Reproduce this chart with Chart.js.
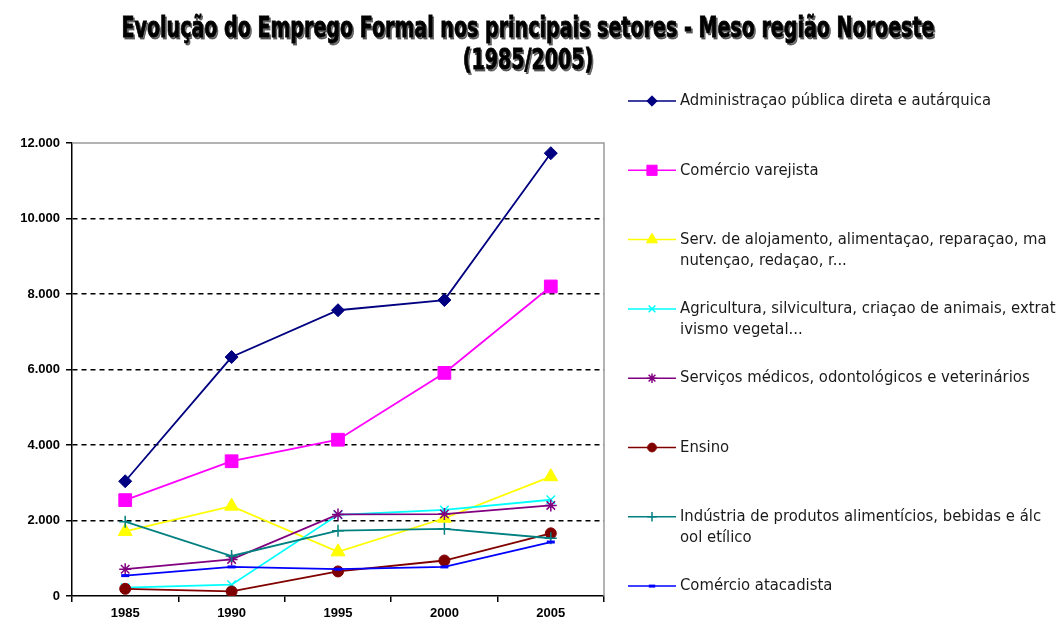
<!DOCTYPE html>
<html>
<head>
<meta charset="utf-8">
<script src="https://cdn.jsdelivr.net/npm/chart.js@4/dist/chart.umd.min.js"></script>
<style>
  html, body { margin: 0; padding: 0; background: #fff; }
  canvas { display: block; }
</style>
</head>
<body>
<canvas id="chart" width="1063" height="625"></canvas>
<script>
// data
const years = ['1985', '1990', '1995', '2000', '2005'];
const admPublica = [3040, 6330, 7570, 7840, 11730];
const comVarejista = [2540, 3570, 4140, 5910, 8200];
const servAlojamento = [1710, 2380, 1170, 2060, 3160];
const agricultura = [220, 300, 2150, 2280, 2550];
const servMedicos = [710, 970, 2160, 2170, 2400];
const ensino = [190, 120, 650, 940, 1660];
const industriaAlim = [1970, 1060, 1730, 1780, 1530];
const comAtacadista = [540, 770, 710, 770, 1430];
const yTicks = [0, 2000, 4000, 6000, 8000, 10000, 12000];

const titleLines = ['Evolução do Emprego Formal nos principais setores - Meso região Noroeste', '(1985/2005)'];
const legendLines = [
  ['Administraçao pública direta e autárquica'],
  ['Comércio varejista'],
  ['Serv. de alojamento, alimentaçao, reparaçao, ma', 'nutençao, redaçao, r...'],
  ['Agricultura, silvicultura, criaçao de animais, extrat', 'ivismo vegetal...'],
  ['Serviços médicos, odontológicos e veterinários'],
  ['Ensino'],
  ['Indústria de produtos alimentícios, bebidas e álc', 'ool etílico'],
  ['Comércio atacadista']
];

function serie(label, data, color, style, radius, filled) {
  return {
    label: label, data: data,
    borderColor: color, backgroundColor: color,
    borderWidth: 1.8,
    pointStyle: style, pointRadius: radius,
    pointBackgroundColor: filled ? color : 'transparent',
    pointBorderColor: color, pointBorderWidth: filled ? 1 : 1.5,
    tension: 0
  };
}

const datasets = [
  serie(legendLines[0].join(''), admPublica, '#000080', 'rectRot', 6.5, true),
  serie(legendLines[1].join(''), comVarejista, '#FF00FF', 'rect', 9, true),
  serie(legendLines[2].join(''), servAlojamento, '#FFFF00', 'triangle', 8, true),
  serie(legendLines[3].join(''), agricultura, '#00FFFF', 'crossRot', 6, false),
  serie(legendLines[4].join(''), servMedicos, '#800080', 'star', 6, false),
  serie(legendLines[5].join(''), ensino, '#800000', 'circle', 5.5, true),
  serie(legendLines[6].join(''), industriaAlim, '#008080', 'cross', 6, false),
  serie(legendLines[7].join(''), comAtacadista, '#0000FF', 'line', 4, false)
];
datasets.forEach((d, i) => { d.order = -i; });
datasets[7].pointBorderWidth = 3;

const frameAndText = {
  id: 'frameAndText',
  afterDraw(chart) {
    const ctx = chart.ctx;
    const a = chart.chartArea;
    ctx.save();
    // plot frame, top and right
    ctx.strokeStyle = '#9a9a9a';
    ctx.lineWidth = 1.5;
    ctx.beginPath();
    ctx.moveTo(a.left, a.top);
    ctx.lineTo(a.right, a.top);
    ctx.lineTo(a.right, a.bottom);
    ctx.stroke();

    // title, squeezed to the width of the original
    ctx.font = "bold 28px 'Liberation Sans Narrow', 'DejaVu Sans Condensed', sans-serif";
    ctx.textAlign = 'center';
    ctx.textBaseline = 'middle';
    ctx.fillStyle = '#000';
    ctx.strokeStyle = '#000';
    ctx.lineWidth = 0.8;
    ctx.shadowColor = 'rgba(0,0,0,0.55)';
    ctx.shadowOffsetX = 1.5;
    ctx.shadowOffsetY = 1.5;
    const sx = 813 / ctx.measureText(titleLines[0]).width;
    titleLines.forEach((t, i) => {
      ctx.save();
      ctx.translate(528, 30 + i * 32);
      ctx.scale(sx, 1);
      ctx.fillText(t, 0, 0);
      ctx.strokeText(t, 0, 0);
      ctx.restore();
    });
    ctx.shadowColor = 'transparent';

    // legend
    ctx.font = "16.5px 'DejaVu Sans Condensed', 'DejaVu Sans', sans-serif";
    ctx.textAlign = 'left';
    chart.data.datasets.forEach((d, i) => {
      const y = 101 + i * 69.3;
      ctx.strokeStyle = d.borderColor;
      ctx.lineWidth = 1.5;
      ctx.beginPath();
      ctx.moveTo(628, y);
      ctx.lineTo(676, y);
      ctx.stroke();
      ctx.fillStyle = d.pointBackgroundColor;
      ctx.lineWidth = d.pointBorderWidth;
      Chart.helpers.drawPoint(ctx, {
        pointStyle: d.pointStyle, rotation: 0,
        radius: d.pointRadius * 0.8, borderWidth: d.pointBorderWidth
      }, 652, y);
      ctx.fillStyle = '#1a1a1a';
      legendLines[i].forEach((line, j) => ctx.fillText(line, 680, y + j * 21));
    });
    ctx.restore();
  }
};

const tickFont = { family: "'Liberation Sans', Arial, sans-serif", size: 13, weight: 'bold' };

new Chart(document.getElementById('chart'), {
  type: 'line',
  data: { labels: years, datasets: datasets },
  options: {
    responsive: false,
    animation: false,
    layout: { padding: { left: 0, top: 143, right: 459, bottom: 0 } },
    plugins: { legend: { display: false }, tooltip: { enabled: false }, title: { display: false } },
    scales: {
      x: {
        type: 'category',
        offset: true,
        grid: { offset: true, drawOnChartArea: false, color: '#000', lineWidth: 1.5, tickLength: 6 },
        border: { color: '#000', width: 1.5 },
        ticks: { color: '#000', font: tickFont, padding: 4, maxRotation: 0 },
        afterFit(s) { s.height = 29; }
      },
      y: {
        min: 0, max: 12000,
        afterBuildTicks(s) { s.ticks = yTicks.map(v => ({ value: v })); },
        grid: {
          color: c => (c.tick && (c.tick.value === 0 || c.tick.value === 12000)) ? 'rgba(0,0,0,0)' : '#000',
          lineWidth: 1.5, tickColor: '#000', tickLength: 6
        },
        border: { color: '#000', width: 1.5, dash: [5, 4] },
        ticks: {
          color: '#000', font: tickFont, padding: 6,
          callback: v => String(v).replace(/\B(?=(\d{3})+(?!\d))/g, '.')
        },
        afterFit(s) { s.width = 72; }
      }
    }
  },
  plugins: [frameAndText]
});
</script>
</body>
</html>
